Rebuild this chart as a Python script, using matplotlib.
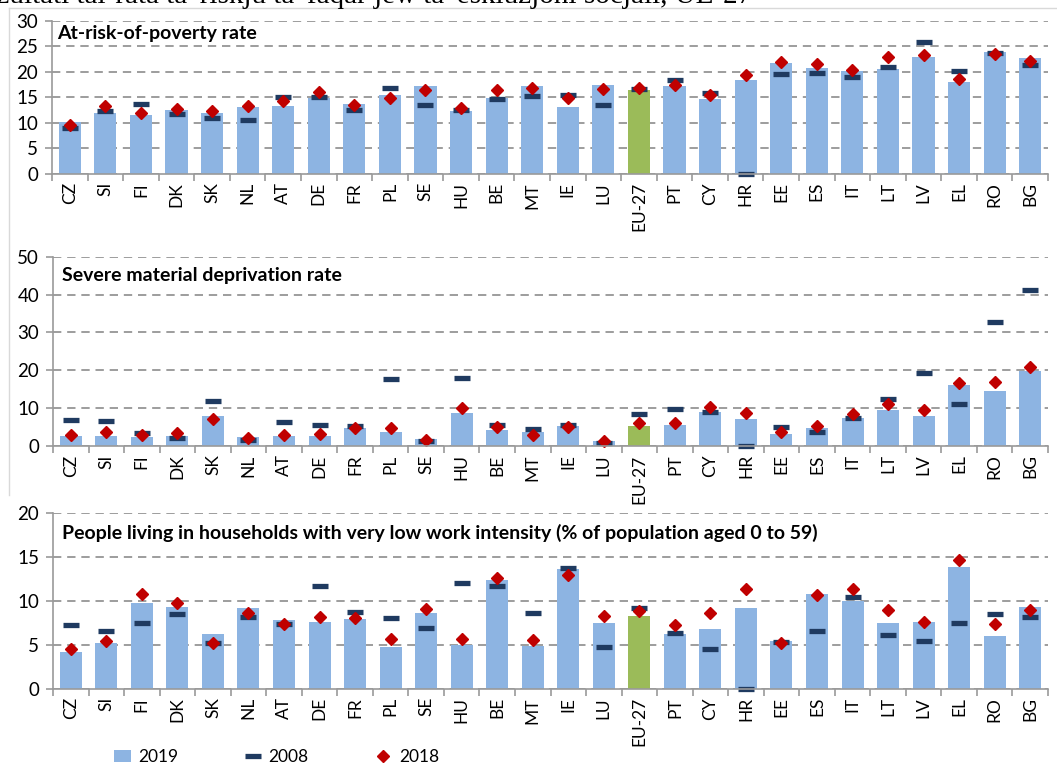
import numpy as np
import matplotlib
matplotlib.use('Agg')
import matplotlib.pyplot as plt
from matplotlib.lines import Line2D
from matplotlib.patches import Patch

# ---- data ------------------------------------------------------------
countries = ['CZ', 'SI', 'FI', 'DK', 'SK', 'NL', 'AT', 'DE', 'FR', 'PL', 'SE', 'HU', 'BE', 'MT',
             'IE', 'LU', 'EU-27', 'PT', 'CY', 'HR', 'EE', 'ES', 'IT', 'LT', 'LV', 'EL', 'RO', 'BG']

# At-risk-of-poverty rate
arop_2019 = [10.1, 12.0, 11.6, 12.5, 12.0, 13.1, 13.3, 14.8, 13.6, 15.4, 17.1, 12.3, 14.8, 17.1,
             13.1, 17.4, 16.5, 17.2, 14.7, 18.3, 21.7, 20.7, 20.1, 20.6, 22.9, 17.9, 23.8, 22.6]
arop_2008 = [9.0, 12.3, 13.6, 11.8, 10.9, 10.5, 15.1, 15.1, 12.5, 16.9, 13.4, 12.5, 14.6, 15.2,
             15.4, 13.4, 16.6, 18.4, 15.9, 0.0, 19.5, 19.8, 18.9, 20.9, 25.9, 20.1, 23.7, 21.4]
arop_2018 = [9.6, 13.3, 12.0, 12.7, 12.2, 13.3, 14.3, 16.0, 13.4, 14.8, 16.4, 12.8, 16.4, 16.8,
             14.9, 16.7, 16.8, 17.3, 15.4, 19.3, 21.9, 21.5, 20.3, 22.9, 23.3, 18.5, 23.5, 22.0]

# Severe material deprivation rate
smd_2019 = [2.7, 2.6, 2.4, 2.6, 7.9, 2.5, 2.6, 2.6, 4.7, 3.6, 1.8, 8.7, 4.3, 3.6,
            5.4, 1.3, 5.4, 5.6, 9.0, 7.2, 3.3, 4.7, 7.4, 9.5, 7.8, 16.2, 14.5, 19.9]
smd_2008 = [6.8, 6.7, 3.5, 2.0, 11.8, 1.5, 6.4, 5.5, 5.4, 17.7, 1.4, 17.9, 5.6, 4.4,
            5.5, 0.7, 8.5, 9.7, 9.1, 0.0, 4.9, 3.6, 7.5, 12.3, 19.3, 11.2, 32.8, 41.2]
smd_2018 = [2.8, 3.7, 2.8, 3.4, 7.0, 2.2, 2.8, 3.1, 4.7, 4.7, 1.6, 10.1, 5.0, 3.0,
            5.1, 1.3, 6.0, 6.0, 10.2, 8.6, 3.8, 5.4, 8.5, 11.1, 9.5, 16.7, 16.8, 20.9]

# Very low work intensity
lwi_2019 = [4.2, 5.2, 9.7, 9.3, 6.2, 9.2, 7.8, 7.6, 7.9, 4.7, 8.6, 5.0, 12.4, 4.9,
            13.6, 7.5, 8.3, 6.2, 6.8, 9.2, 5.4, 10.8, 10.0, 7.5, 7.6, 13.8, 6.0, 9.3]
lwi_2008 = [7.2, 6.6, 7.5, 8.5, 5.2, 8.2, 7.4, 11.7, 8.7, 8.0, 6.9, 12.0, 11.7, 8.6,
            13.7, 4.7, 9.2, 6.3, 4.5, 0.0, 5.3, 6.6, 10.4, 6.1, 5.4, 7.5, 8.5, 8.1]
lwi_2018 = [4.5, 5.4, 10.8, 9.7, 5.2, 8.6, 7.3, 8.1, 8.0, 5.6, 9.1, 5.7, 12.6, 5.5,
            12.9, 8.3, 8.8, 7.2, 8.6, 11.3, 5.2, 10.7, 11.3, 9.0, 7.6, 14.6, 7.4, 9.0]

panel_titles = ['At-risk-of-poverty rate',
                'Severe material deprivation rate',
                'People living in households with very low work intensity (% of population aged 0 to 59)']
panel_ymax = [30, 50, 20]
panel_ystep = [5, 10, 5]
legend_labels = ['2019', '2008', '2018']

# ---- styling ----------------------------------------------------------
plt.rcParams['font.family'] = ['Lato', 'DejaVu Sans']
W, H = 1057, 764
bar_col = '#8db4e2'
eu_col = '#9bbb59'
dash_col = '#1f3a60'
dia_col = '#c00000'
grid_col = '#8c8c8c'
axis_col = '#9a9a9a'

fig = plt.figure(figsize=(W / 100.0, H / 100.0), dpi=100)

# axes boxes in pixels: left, top, right, bottom
boxes = [(52, 20.7, 1048, 173.7),
         (53, 256.7, 1048, 446.0),
         (53, 512.7, 1048, 688.7)]
title_pos = [(0.005, 0.915), (0.009, 0.903), (0.009, 0.883)]

series = [(arop_2019, arop_2008, arop_2018),
          (smd_2019, smd_2008, smd_2018),
          (lwi_2019, lwi_2008, lwi_2018)]

x = np.arange(len(countries))
colors = [eu_col if c == 'EU-27' else bar_col for c in countries]

for i, (l, t, r, b) in enumerate(boxes):
    ax = fig.add_axes([l / W, 1 - b / H, (r - l) / W, (b - t) / H])
    v19, v08, v18 = series[i]

    ax.bar(x, v19, width=0.62, color=colors, edgecolor='none', zorder=2)
    ax.plot(x, v08, linestyle='none', marker='_', markersize=11, markeredgewidth=3.8,
            color=dash_col, zorder=3, clip_on=False)
    ax.plot(x, v18, linestyle='none', marker='D', markersize=6.5, color=dia_col,
            markeredgecolor=dia_col, zorder=4, clip_on=False)

    ax.set_xlim(-0.5, len(countries) - 0.5)
    ax.set_ylim(0, panel_ymax[i])
    ax.set_yticks(np.arange(0, panel_ymax[i] + 1, panel_ystep[i]))
    ax.set_xticks(x)
    ax.set_xticklabels(countries, rotation=90, fontsize=12.5)
    ax.set_xticks(np.arange(-0.5, len(countries), 1.0), minor=True)
    ax.tick_params(axis='x', which='major', length=0, pad=6)
    ax.tick_params(axis='x', which='minor', length=5, width=1.2, color=axis_col, direction='out')
    ax.tick_params(axis='y', length=5, width=1.2, color=axis_col, labelsize=13.5, pad=5)

    # dashed horizontal grid
    ax.yaxis.grid(True, linestyle=(0, (5, 3.5)), color=grid_col, linewidth=1.2, zorder=0)
    ax.set_axisbelow(True)
    for side in ['top', 'right']:
        ax.spines[side].set_visible(False)
    for side in ['left', 'bottom']:
        ax.spines[side].set_color(axis_col)
        ax.spines[side].set_linewidth(1.2)
    ax.spines['bottom'].set_zorder(5)

    ax.text(title_pos[i][0], title_pos[i][1], panel_titles[i], transform=ax.transAxes,
            ha='left', va='center', fontsize=14, fontweight='bold', zorder=6)

# legend at the bottom
handles = [Patch(facecolor=bar_col, edgecolor='none'),
           Line2D([], [], linestyle='none', marker='_', markersize=11, markeredgewidth=3.8, color=dash_col),
           Line2D([], [], linestyle='none', marker='D', markersize=6.5, color=dia_col)]
fig.legend(handles, legend_labels, loc='center left', bbox_to_anchor=(105 / W, 1 - 757 / H),
           ncol=3, frameon=False, fontsize=12.5, columnspacing=3.8, handlelength=1.0,
           handletextpad=0.4, borderpad=0)

# cut-off caption from the page above
fig.text(752 / W, 1 - 3 / H, "Riżultati tal-rata ta' riskju ta' faqar jew ta' esklużjoni soċjali, UE-27",
         ha='right', va='baseline', fontsize=21, family='Liberation Serif')

# faint frame lines of the pasted charts
fig.add_artist(Line2D([9 / W, 1.0], [1 - 8 / H, 1 - 8 / H], color='#d9d9d9', lw=1))
fig.add_artist(Line2D([9 / W, 9 / W], [1 - 8 / H, 1 - 495 / H], color='#d9d9d9', lw=1))

plt.savefig('out.png', dpi=100)
